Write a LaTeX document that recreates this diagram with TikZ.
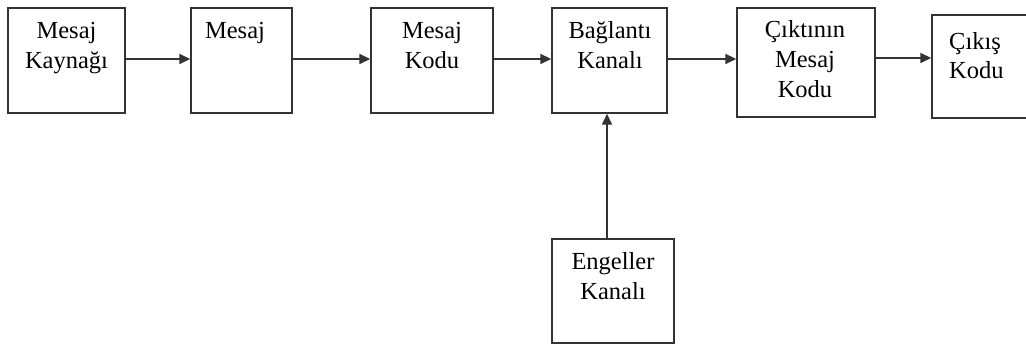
\documentclass[tikz,border=0pt]{standalone}
\usepackage{fontspec}
\setmainfont{Liberation Serif}
\usetikzlibrary{arrows.meta}
\tikzset{
  blk/.style={draw=black!80, line width=1.4pt, rectangle, inner sep=0pt},
  lbl/.style={anchor=north, inner sep=0pt, align=center, font=\fontsize{24.5}{30}\selectfont},
  lbll/.style={anchor=north west, inner sep=0pt, align=left, font=\fontsize{24.5}{29}\selectfont},
  arr/.style={draw=black!80, line width=1.5pt, -{Triangle[length=11pt,width=10pt]}}
}
\newcommand{\fs}{\rule{0pt}{18pt}}
\begin{document}
\begin{tikzpicture}[x=1pt,y=1pt]
\clip (0,0) rectangle (1026,345);
\useasboundingbox (0,0) rectangle (1026,345);
% boxes
\node[blk, minimum width=117pt, minimum height=105pt] (b1) at (66.5,284.5) {};
\node[blk, minimum width=101pt, minimum height=105pt] (b2) at (241.5,284.5) {};
\node[blk, minimum width=122pt, minimum height=105pt] (b3) at (432,284.5) {};
\node[blk, minimum width=115pt, minimum height=105pt] (b4) at (609.5,284.5) {};
\node[blk, minimum width=138pt, minimum height=109pt] (b5) at (806,282.5) {};
\node[blk, minimum width=108pt, minimum height=103pt] (b6) at (986,278.5) {};
\node[blk, minimum width=122pt, minimum height=104pt] (b7) at (613,54) {};
% labels
\node[lbl] (l1) at (66.5,325) {\fs Mesaj\\Kaynağı};
\node[lbl] (l2) at (235,325) {\fs Mesaj};
\node[lbl] (l3) at (432,325) {\fs Mesaj\\Kodu};
\node[lbl] (l4) at (610,325) {\fs Bağlantı\\Kanalı};
\node[lbl] (l5) at (805,326) {\fs Çıktının\\Mesaj\\Kodu};
\node[lbll] (l6) at (949,314) {\fs Çıkış\\Kodu};
\node[lbl] (l7) at (613,94) {\fs Engeller\\Kanalı};
% connectors
\coordinate (y1) at (0,286);
\coordinate (y3) at (0,287);
\coordinate (x7) at (607,0);
\draw[arr] (b1.east |- y1) -- (b2.west |- y1);
\draw[arr] (b2.east |- y1) -- (b3.west |- y1);
\draw[arr] (b3.east |- y1) -- (b4.west |- y1);
\draw[arr] (b4.east |- y1) -- (b5.west |- y1);
\draw[arr] (b5.east |- y3) -- (b6.west |- y3);
\draw[arr] (b7.north -| x7) -- (b4.south -| x7);
\end{tikzpicture}
\end{document}
